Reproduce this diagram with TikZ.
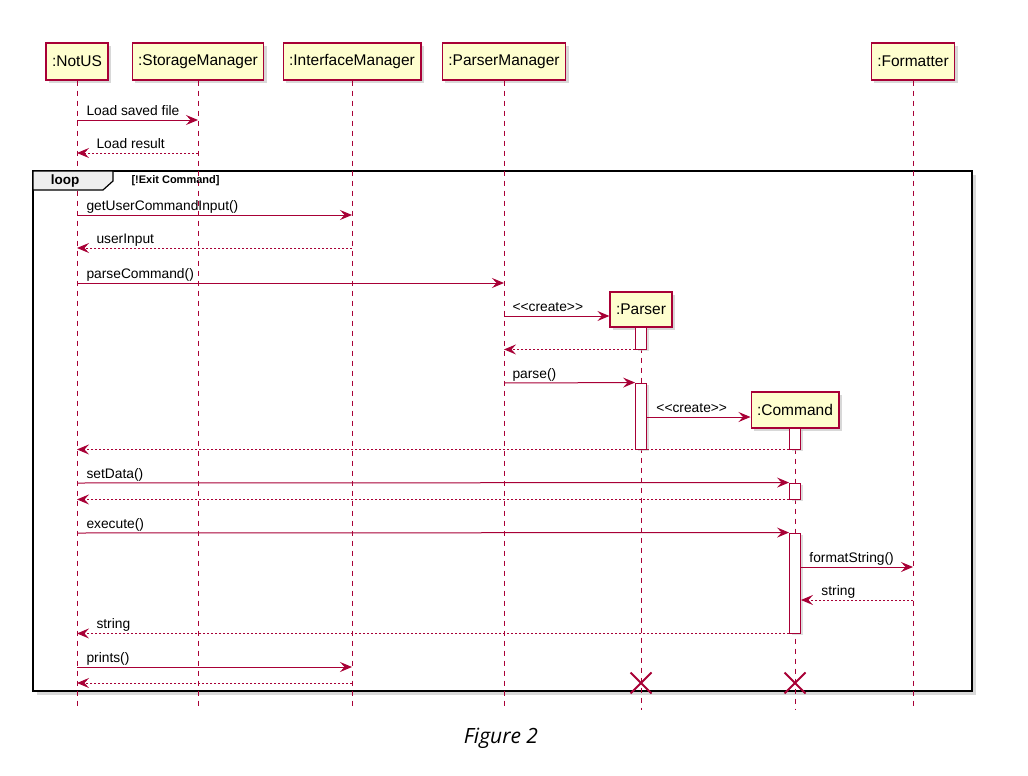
\documentclass[tikz,border=0pt]{standalone}
\usepackage{fontspec}
\setmainfont{Liberation Sans}
\newfontfamily\capfont{Open Sans}
\usetikzlibrary{arrows.meta,shadows}

\definecolor{umlred}{RGB}{168,0,54}
\definecolor{umlfill}{RGB}{254,254,206}
\definecolor{tabgray}{RGB}{238,238,238}

\tikzset{
  actor/.style={draw=umlred, fill=umlfill, line width=1.2pt, minimum height=37pt, inner xsep=6pt,
    font=\fontsize{15.5}{17}\selectfont, drop shadow={shadow xshift=3pt, shadow yshift=-3pt, fill=black!30}},
  lifeline/.style={umlred, line width=0.7pt, dash pattern=on 5pt off 5pt},
  call/.style={umlred, line width=1pt, -{Stealth[length=12pt,width=10pt,inset=4.5pt]}},
  reply/.style={call, dash pattern=on 2pt off 2pt},
  activ/.style={draw=umlred, fill=white, line width=0.9pt, minimum width=11pt, inner sep=0pt,
    drop shadow={shadow xshift=2pt, shadow yshift=-2pt, fill=black!25}},
  lbl/.style={black, font=\fontsize{13.8}{16}\selectfont, inner sep=0pt, anchor=base west, yshift=5pt}
}

\begin{document}
\begin{tikzpicture}[x=1pt, y=-1pt]
\useasboundingbox (0,0) rectangle (1028,776);

% loop frame
\draw[line width=2.6pt, fill=white, drop shadow={shadow xshift=4pt, shadow yshift=-4pt, fill=black!30}] (33,171) rectangle (972,691);

% participants
\node[actor] (notus) at (77,61.5) {:NotUS};
\node[actor] (storage) at (198,61.5) {:StorageManager};
\node[actor] (iface) at (352,61.5) {:InterfaceManager};
\node[actor] (parserman) at (504,61.5) {:ParserManager};
\node[actor] (formatter) at (913,61.5) {:Formatter};
\node[actor, minimum height=35pt] (parser) at (641,309.5) {:Parser};
\node[actor, minimum height=36pt] (command) at (795,410) {:Command};

% lifelines
\foreach \p in {notus,storage,iface,parserman,formatter,parser,command}
  \draw[lifeline] (\p.south) -- (\p |- 0,710);

% loop tab
\draw[line width=1.2pt, fill=tabgray] (33,171) -- (113,171) -- (113,181) -- (103,190) -- (33,190) -- cycle;
\node[font=\bfseries\fontsize{13.5}{15}\selectfont] (looplbl) at (65,181) {loop};
\node[font=\bfseries\fontsize{11}{13}\selectfont, anchor=west] (guard) at (128,181) {[!Exit Command]};

% activation bars
\node[activ, minimum height=22pt] (act1) at (641,338) {};
\node[activ, minimum height=66pt] (act2) at (641,416) {};
\node[activ, minimum height=21pt] (act3) at (795,438.5) {};
\node[activ, minimum height=16pt] (act4) at (795,491) {};
\node[activ, minimum height=100pt] (act5) at (795,583) {};

% messages
\draw[call] (notus |- 0,120) -- (storage |- 0,120) node[lbl, pos=0, xshift=9pt] {Load saved file};
\draw[reply] (storage |- 0,153) -- (notus |- 0,153) node[lbl, pos=1, xshift=19pt] {Load result};
\draw[call] (notus |- 0,215) -- (iface |- 0,215) node[lbl, pos=0, xshift=9pt] {getUserCommandInput()};
\draw[reply] (iface |- 0,248) -- (notus |- 0,248) node[lbl, pos=1, xshift=19pt] {userInput};
\draw[call] (notus |- 0,283) -- (parserman |- 0,283) node[lbl, pos=0, xshift=9pt] {parseCommand()};
\draw[call] (parserman |- 0,316) -- (parser.west |- 0,316) node[lbl, pos=0, xshift=8pt] {\textless{}\textless{}create\textgreater{}\textgreater{}};
\draw[reply] (act1.south west) -- (parserman |- act1.south);
\draw[call] (parserman |- 0,383) -- (act2.north west) node[lbl, pos=0, xshift=8pt] {parse()};
\draw[call] (act2.east |- 0,417) -- (command.west |- 0,417) node[lbl, pos=0, xshift=9pt] {\textless{}\textless{}create\textgreater{}\textgreater{}};
\draw[reply] (act3.south west) -- (notus |- act3.south);
\draw[call] (notus |- 0,483) -- (act4.north west) node[lbl, pos=0, xshift=9pt] {setData()};
\draw[reply] (act4.south west) -- (notus |- act4.south);
\draw[call] (notus |- 0,533) -- (act5.north west) node[lbl, pos=0, xshift=9pt] {execute()};
\draw[call] (act5.east |- 0,567) -- (formatter |- 0,567) node[lbl, pos=0, xshift=8pt] {formatString()};
\draw[reply] (formatter |- 0,600) -- (act5.east |- 0,600) node[lbl, pos=1, xshift=20pt] {string};
\draw[reply] (act5.south west) -- (notus |- act5.south) node[lbl, pos=1, xshift=19pt] {string};
\draw[call] (notus |- 0,667) -- (iface |- 0,667) node[lbl, pos=0, xshift=9pt] {prints()};
\draw[reply] (iface |- 0,683) -- (notus |- 0,683);

% destroy marks
\coordinate (endparser) at (parser |- 0,683);
\coordinate (endcommand) at (command |- 0,683);
\foreach \c in {endparser,endcommand}
  \draw[umlred, line width=1.8pt] (\c) ++(-10.5,-10.5) -- ++(21,21) (\c) ++(-10.5,10.5) -- ++(21,-21);

\node[font=\capfont\itshape\fontsize{21}{24}\selectfont] (caption) at (501,738) {Figure 2};
\end{tikzpicture}
\end{document}
